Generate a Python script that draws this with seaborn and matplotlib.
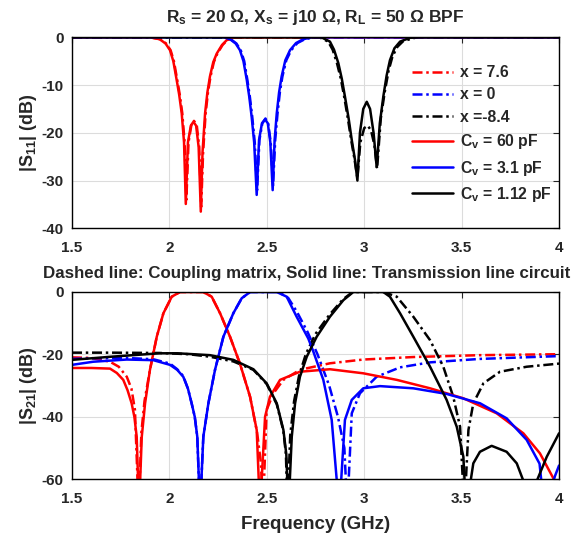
import matplotlib
matplotlib.use("Agg")
import matplotlib.pyplot as plt
import seaborn as sns

# |S11| curves (GHz, dB)
s11_red_f = [1.5, 1.90, 1.95, 1.98, 2.003, 2.02, 2.037, 2.05, 2.063, 2.075, 2.084, 2.095, 2.11, 2.123,
             2.137, 2.15, 2.161, 2.17, 2.183, 2.195, 2.208, 2.225, 2.243, 2.27, 2.294, 2.33, 4.0]
s11_red_db = [0, 0, -0.4, -1.3, -2.7, -5.0, -8.9, -12, -15.9, -22, -34.9, -22, -18.5, -17.7,
              -18.5, -23, -36.5, -24, -15.9, -11.5, -8.2, -5.2, -3.4, -1.6, -0.6, 0, 0]
s11_red_cm_f = [1.5, 1.90, 1.953, 1.983, 2.006, 2.023, 2.04, 2.053, 2.066, 2.078, 2.087, 2.098, 2.113, 2.126,
                2.14, 2.153, 2.163, 2.173, 2.186, 2.198, 2.211, 2.228, 2.246, 2.273, 2.297, 2.335, 4.0]
s11_red_cm_db = [0, 0, -0.4, -1.3, -2.7, -5.0, -8.9, -12, -15.9, -22, -34.0, -22, -18.3, -17.5,
                 -18.3, -23, -35.5, -24, -15.9, -11.5, -8.2, -5.2, -3.4, -1.6, -0.6, 0, 0]

s11_blue_f = [1.5, 2.28, 2.311, 2.34, 2.362, 2.38, 2.397, 2.41, 2.422, 2.435, 2.448, 2.46, 2.475, 2.491,
              2.505, 2.518, 2.530, 2.54, 2.551, 2.563, 2.576, 2.595, 2.619, 2.65, 2.687, 2.73, 4.0]
s11_blue_db = [0, 0, -0.4, -1.3, -2.7, -5.0, -8.9, -12.5, -16.6, -22, -33.0, -21.5, -18.0, -17.2,
               -18.0, -22, -32.0, -21.5, -15.9, -11.5, -8.2, -4.8, -2.7, -1.2, -0.4, 0, 0]
s11_blue_cm_f = [1.5, 2.285, 2.315, 2.344, 2.366, 2.384, 2.40, 2.413, 2.425, 2.438, 2.45, 2.462, 2.477, 2.493,
                 2.507, 2.52, 2.532, 2.543, 2.555, 2.567, 2.58, 2.6, 2.625, 2.657, 2.695, 2.74, 4.0]
s11_blue_cm_db = [0, 0, -0.4, -1.3, -2.7, -5.0, -8.9, -12.5, -16.6, -22, -32.0, -21.5, -18.0, -17.0,
                  -18.0, -22, -31.0, -21.5, -15.9, -11.5, -8.2, -4.8, -2.7, -1.2, -0.4, 0, 0]

s11_black_f = [1.5, 2.78, 2.824, 2.845, 2.867, 2.885, 2.901, 2.92, 2.936, 2.952, 2.965, 2.978, 2.995, 3.013,
               3.03, 3.048, 3.064, 3.08, 3.098, 3.115, 3.132, 3.155, 3.184, 3.235, 3.28, 4.0]
s11_black_db = [0, 0, -0.9, -2.6, -5.4, -8.7, -12.4, -17, -21.5, -25.5, -30.0, -20, -15, -13.5,
                -15, -20, -27.2, -18, -12.4, -8, -4.8, -2.3, -0.9, -0.1, 0, 0]
s11_black_cm_f = [1.5, 2.77, 2.815, 2.838, 2.86, 2.88, 2.897, 2.916, 2.933, 2.95, 2.965, 2.98, 3.0, 3.018,
                  3.035, 3.052, 3.066, 3.085, 3.105, 3.125, 3.145, 3.17, 3.20, 3.26, 3.32, 4.0]
s11_black_cm_db = [0, 0, -0.9, -2.6, -5.4, -8.7, -12.4, -17, -21.5, -25.5, -29.5, -22, -19, -18.5,
                   -19.5, -22.5, -27.5, -17, -11.5, -7, -4.0, -2.0, -0.8, -0.1, 0, 0]

# |S21| curves (GHz, dB)
s21_red_f = [1.5, 1.6, 1.695, 1.73, 1.763, 1.785, 1.806, 1.82, 1.832, 1.844, 1.858, 1.875, 1.900, 1.935,
             1.969, 2.012, 2.054, 2.174, 2.217, 2.260, 2.311, 2.362, 2.414, 2.448, 2.465, 2.491, 2.516,
             2.568, 2.670, 2.824, 2.995, 3.167, 3.338, 3.509, 3.680, 3.817, 3.902, 3.971, 3.99]
s21_red_db = [-24.4, -24.4, -24.6, -26, -28.2, -31.5, -35.7, -40, -46.4, -70, -46.4, -35.7, -25.0, -14.4,
              -6.9, -1.6, -0.1, -0.1, -1.6, -6.9, -14.4, -23, -33.6, -44.2, -70, -40, -33.6,
              -28.2, -25.6, -24.8, -26.1, -28.2, -30.9, -34.1, -38.9, -45.3, -51.7, -59.7, -70]
s21_red_cm_f = [1.5, 1.6, 1.695, 1.74, 1.781, 1.805, 1.823, 1.842, 1.856, 1.872, 1.900, 1.935, 1.969,
                2.012, 2.054, 2.174, 2.217, 2.260, 2.311, 2.362, 2.414, 2.45, 2.47, 2.48, 2.499, 2.534,
                2.585, 2.67, 2.705, 2.824, 2.995, 3.252, 3.594, 4.0]
s21_red_cm_db = [-21.0, -21.2, -22.4, -24, -27.2, -31, -37.8, -70, -45, -35, -25, -14.4, -6.9,
                 -1.6, -0.1, -0.1, -1.6, -6.9, -14.4, -23, -33.6, -45, -55, -70, -37.8, -32.5,
                 -28.2, -25.0, -24.5, -22.9, -21.7, -20.9, -20.3, -20.0]

s21_blue_f = [1.5, 1.609, 1.781, 1.917, 2.003, 2.04, 2.071, 2.095, 2.114, 2.13, 2.143, 2.157, 2.174, 2.20,
              2.234, 2.277, 2.328, 2.371, 2.414, 2.551, 2.602, 2.653, 2.713, 2.739, 2.790, 2.833, 2.872,
              2.901, 2.936, 2.995, 3.081, 3.252, 3.423, 3.595, 3.731, 3.834, 3.90, 3.925, 3.979, 4.0]
s21_blue_db = [-23.4, -22.4, -21.7, -21.9, -23.4, -25, -27.2, -31, -35.7, -40, -46.4, -70, -46.4, -35.7,
               -25.0, -14.4, -6.9, -2.1, -0.1, -0.1, -1.6, -8, -15, -19.2, -28.2, -41, -70,
               -41, -34.6, -30.9, -30.2, -30.9, -32.7, -35.7, -40.5, -47.4, -55, -70, -59, -55.6]
s21_blue_cm_f = [1.5, 1.609, 1.781, 1.917, 2.003, 2.04, 2.071, 2.095, 2.114, 2.13, 2.143, 2.157, 2.174,
                 2.20, 2.234, 2.277, 2.328, 2.371, 2.414, 2.56, 2.61, 2.655, 2.71, 2.76, 2.82, 2.865,
                 2.898, 2.913, 2.936, 2.978, 3.064, 3.184, 3.338, 3.594, 4.0]
s21_blue_cm_db = [-21.5, -21.3, -21.2, -21.6, -23, -24.8, -27, -31, -35.7, -40, -46.4, -70, -46.4,
                  -35.7, -25, -14.4, -6.9, -2.1, -0.1, -0.1, -2, -6.5, -13, -20, -30, -40,
                  -50, -70, -38.9, -32.5, -27.2, -24.2, -22.6, -21.5, -20.6]

s21_black_f = [1.5, 1.7, 1.95, 2.04, 2.208, 2.328, 2.431, 2.499, 2.551, 2.585, 2.60, 2.611, 2.628, 2.645,
               2.670, 2.705, 2.756, 2.824, 2.893, 2.944, 3.098, 3.132, 3.184, 3.252, 3.338, 3.423, 3.475,
               3.509, 3.523, 3.560, 3.594, 3.654, 3.731, 3.783, 3.817, 3.85, 3.886, 3.937, 4.0]
s21_black_db = [-21.8, -20.8, -19.7, -19.7, -20.3, -21.8, -24.8, -29.3, -35.7, -44.2, -52, -70, -46.4, -35.7,
                -27.2, -20.8, -14.4, -8.0, -2.7, -0.1, -0.1, -1.6, -6.9, -14.4, -24.0, -34.6, -43.2,
                -52.8, -70, -54.9, -51.2, -49.3, -51.2, -54.9, -60.5, -70, -60.5, -52.8, -45.3]
s21_black_cm_f = [1.5, 1.7, 1.95, 2.1, 2.208, 2.328, 2.431, 2.499, 2.551, 2.585, 2.598, 2.606, 2.62, 2.64,
                  2.665, 2.70, 2.75, 2.82, 2.89, 2.94, 3.10, 3.167, 3.252, 3.338, 3.406, 3.457, 3.492,
                  3.514, 3.535, 3.560, 3.612, 3.697, 3.834, 4.0]
s21_black_cm_db = [-19.5, -19.5, -19.6, -20, -20.8, -22.3, -25, -29.5, -36, -44.5, -52, -70, -46, -35,
                   -27, -20, -13.5, -7.5, -2.5, -0.1, -0.1, -1.6, -8.0, -15.5, -24.0, -33.6, -43.2,
                   -70, -44.2, -35.7, -29.3, -25.6, -24.0, -23.0]

legend_labels = ["x = 7.6", "x = 0", "x =-8.4", "C$_v$ = 60 pF", "C$_v$ = 3.1 pF", "C$_v$ = 1.12 pF"]

sns.set_style("white")
plt.rcParams["font.family"] = ["Liberation Sans", "DejaVu Sans"]
plt.rcParams["font.weight"] = "bold"
plt.rcParams["axes.unicode_minus"] = False
plt.rcParams["mathtext.fontset"] = "custom"
plt.rcParams["mathtext.rm"] = "Liberation Sans:bold"
plt.rcParams["mathtext.it"] = "Liberation Sans:bold"
plt.rcParams["mathtext.bf"] = "Liberation Sans:bold"

fig = plt.figure(figsize=(5.79, 5.36), dpi=100)
ax1 = fig.add_axes([0.1244, 0.574, 0.8411, 0.3564])
ax2 = fig.add_axes([0.1244, 0.1058, 0.8411, 0.35])

lw = 1.8
dash = (0, (4, 1.5, 1, 1.5))

top = [
    (s11_red_cm_f, s11_red_cm_db, "red", dash, legend_labels[0]),
    (s11_blue_cm_f, s11_blue_cm_db, "blue", dash, legend_labels[1]),
    (s11_black_cm_f, s11_black_cm_db, "black", dash, legend_labels[2]),
    (s11_red_f, s11_red_db, "red", "-", legend_labels[3]),
    (s11_blue_f, s11_blue_db, "blue", "-", legend_labels[4]),
    (s11_black_f, s11_black_db, "black", "-", legend_labels[5]),
]
for f, db, c, ls, lab in top:
    sns.lineplot(x=f, y=db, ax=ax1, color=c, linestyle=ls, linewidth=lw,
                 sort=False, estimator=None, label=lab)

bottom = [
    (s21_red_cm_f, s21_red_cm_db, "red", dash),
    (s21_blue_cm_f, s21_blue_cm_db, "blue", dash),
    (s21_black_cm_f, s21_black_cm_db, "black", dash),
    (s21_red_f, s21_red_db, "red", "-"),
    (s21_blue_f, s21_blue_db, "blue", "-"),
    (s21_black_f, s21_black_db, "black", "-"),
]
for f, db, c, ls in bottom:
    sns.lineplot(x=f, y=db, ax=ax2, color=c, linestyle=ls, linewidth=lw,
                 sort=False, estimator=None)

for ax in (ax1, ax2):
    ax.set_xlim(1.5, 4)
    ax.set_xticks([1.5, 2, 2.5, 3, 3.5, 4])
    ax.set_xticklabels(["1.5", "2", "2.5", "3", "3.5", "4"])
    ax.grid(True, color="#dcdcdc", linewidth=0.8)
    ax.tick_params(direction="in", length=4, width=0.8, top=True, right=True, labelsize=11)
    ax.tick_params(axis="x", pad=9)
    ax.tick_params(axis="y", pad=6)
    for s in ax.spines.values():
        s.set_color("black")
        s.set_linewidth(1.0)
    for t in ax.get_xticklabels() + ax.get_yticklabels():
        t.set_fontweight("bold")

ax1.set_ylim(-40, 0)
ax1.set_yticks([-40, -30, -20, -10, 0])
ax1.set_ylabel("|S$_{11}$| (dB)", fontsize=13, fontweight="bold", labelpad=2)
ax1.set_title("R$_s$ = 20 Ω, X$_s$ = j10 Ω, R$_L$ = 50 Ω BPF", fontsize=12.5,
              fontweight="bold", pad=11)

ax2.set_ylim(-60, 0)
ax2.set_yticks([-60, -40, -20, 0])
ax2.set_ylabel("|S$_{21}$| (dB)", fontsize=13, fontweight="bold", labelpad=2)
ax2.set_xlabel("Frequency (GHz)", fontsize=13.5, fontweight="bold", labelpad=7)
sub = ax2.set_title("Dashed line: Coupling matrix, Solid line: Transmission line circuit",
                    fontsize=12.2, fontweight="bold", pad=10)
sub.set_x(0.482)

leg = ax1.legend(loc="upper left", bbox_to_anchor=(0.698, 0.855), frameon=False,
                 fontsize=11.3, handlelength=2.6, handletextpad=0.45,
                 labelspacing=0.47, borderpad=0, borderaxespad=0)
for t in leg.get_texts():
    t.set_fontweight("bold")

fig.savefig("out.png", dpi=100)
